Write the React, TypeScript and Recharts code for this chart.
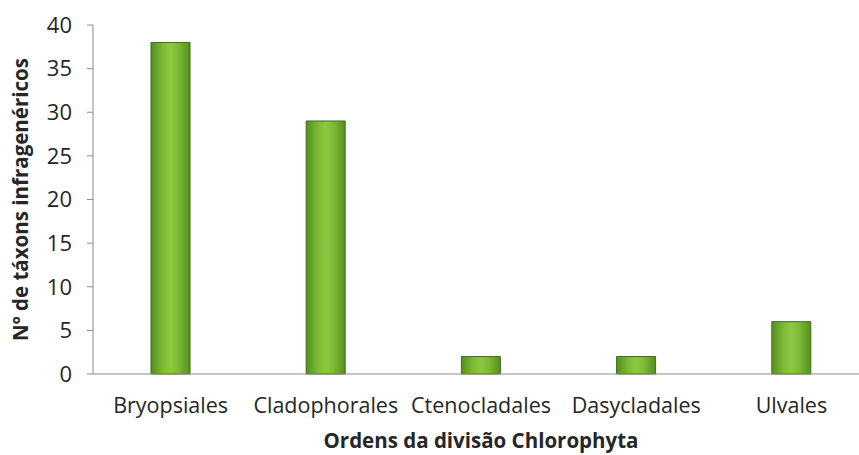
import { Bar, BarChart, Label, XAxis, YAxis } from "recharts";

const orders = ["Bryopsiales", "Cladophorales", "Ctenocladales", "Dasycladales", "Ulvales"];
const taxonCounts = [38, 29, 2, 2, 6];
const yTicks = [0, 5, 10, 15, 20, 25, 30, 35, 40];

const data = orders.map((name, i) => ({ name, value: taxonCounts[i] }));

const font = "'Open Sans', Lato, sans-serif";
const axisColor = "#8c8c8c";
const textColor = "#262626";

export default function App() {
  // chart is a bit wider than the window: the original picture cuts off the right edge of the plot
  return (
    <div style={{ position: "absolute", left: 0, top: 0, width: 859, height: 455, overflow: "hidden", background: "#fff", fontFamily: font }}>
      <BarChart width={869} height={455} data={data} margin={{ top: 25, right: 0, left: 0, bottom: 0 }}>
        <defs>
          <linearGradient id="barGreen" x1="0" y1="0" x2="1" y2="0">
            <stop offset="0%" stopColor="#548f1e" />
            <stop offset="30%" stopColor="#7dba35" />
            <stop offset="50%" stopColor="#8dc842" />
            <stop offset="70%" stopColor="#7dba35" />
            <stop offset="100%" stopColor="#548f1e" />
          </linearGradient>
        </defs>
        <XAxis
          dataKey="name"
          interval={0}
          height={81}
          tickLine={false}
          axisLine={{ stroke: axisColor }}
          tick={{ fill: textColor, fontSize: 21.5, fontFamily: font }}
          tickMargin={18}
        >
          <Label
            value="Ordens da divisão Chlorophyta"
            position="insideBottom"
            offset={7}
            style={{ fill: textColor, fontSize: 20.5, fontWeight: 700, fontFamily: font }}
          />
        </XAxis>
        <YAxis
          domain={[0, 40]}
          ticks={yTicks}
          width={93}
          tickSize={6}
          tickMargin={15}
          axisLine={{ stroke: axisColor }}
          tickLine={{ stroke: axisColor }}
          tick={{ fill: textColor, fontSize: 22, fontFamily: font }}
        >
          <Label
            value="Nº de táxons infragenéricos"
            angle={-90}
            position="center"
            dx={-26}
            style={{ textAnchor: "middle", fill: textColor, fontSize: 20.5, fontWeight: 700, fontFamily: font }}
          />
        </YAxis>
        <Bar
          dataKey="value"
          barSize={39}
          fill="url(#barGreen)"
          stroke="#3f6d15"
          strokeWidth={1}
          isAnimationActive={false}
        />
      </BarChart>
    </div>
  );
}
